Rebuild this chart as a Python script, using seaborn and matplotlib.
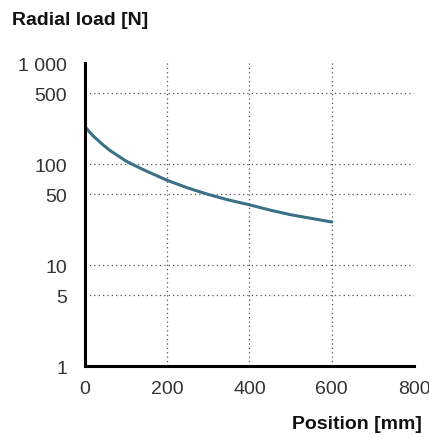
import pandas as pd
import matplotlib.pyplot as plt
import matplotlib.ticker as mticker
import seaborn as sns

# values
position_mm = [0, 10, 20, 40, 60, 80, 100, 125, 150, 200, 250, 300, 350, 400, 450, 500, 550, 600]
radial_load_n = [236, 210, 190, 160, 137, 121, 107, 95, 85, 69, 58, 50, 44, 39.5, 35, 31.5, 29, 26.7]

y_ticks = [1, 5, 10, 50, 100, 500, 1000]
y_tick_labels = ['1', '5', '10', '50', '100', '500', '1 000']
x_ticks = [0, 200, 400, 600, 800]
x_tick_labels = ['0', '200', '400', '600', '800']

df = pd.DataFrame({'Position [mm]': position_mm, 'Radial load [N]': radial_load_n})

sns.set_theme(style='white')
plt.rcParams['font.family'] = ['Liberation Sans', 'DejaVu Sans']

fig = plt.figure(figsize=(4.29, 4.39), dpi=100)
ax = fig.add_axes([0.198, 0.164, 0.767, 0.69])

sns.lineplot(ax=ax, data=df, x='Position [mm]', y='Radial load [N]',
             color='#3b7186', linewidth=2.2)

ax.set_yscale('log')
ax.set_ylim(1, 1000)
ax.set_xlim(0, 800)

ax.yaxis.set_major_locator(mticker.FixedLocator(y_ticks))
ax.yaxis.set_minor_locator(mticker.NullLocator())
ax.set_yticklabels(y_tick_labels)
ax.set_xticks(x_ticks)
ax.set_xticklabels(x_tick_labels)
ax.tick_params(axis='y', length=0, pad=13, labelsize=14, colors='#333333')
ax.tick_params(axis='x', length=0, pad=10, labelsize=14, colors='#333333')

# dotted grid, only inner lines
for y in [5, 10, 50, 100, 500]:
    ax.axhline(y, color='#555555', linestyle=(0, (1, 2.5)), linewidth=0.9, zorder=0)
for x in [200, 400, 600]:
    ax.axvline(x, color='#555555', linestyle=(0, (1, 2.5)), linewidth=0.9, zorder=0)

for side in ['top', 'right']:
    ax.spines[side].set_visible(False)
for side in ['left', 'bottom']:
    ax.spines[side].set_color('black')
    ax.spines[side].set_linewidth(2.2)

ax.set_xlabel('')
ax.set_ylabel('')
fig.text(0.028, 0.953, 'Radial load [N]', fontsize=14, fontweight='bold',
         ha='left', va='center', color='#111111')
fig.text(0.984, 0.032, 'Position [mm]', fontsize=14, fontweight='bold',
         ha='right', va='center', color='#111111')

plt.savefig('out.png', dpi=100)
